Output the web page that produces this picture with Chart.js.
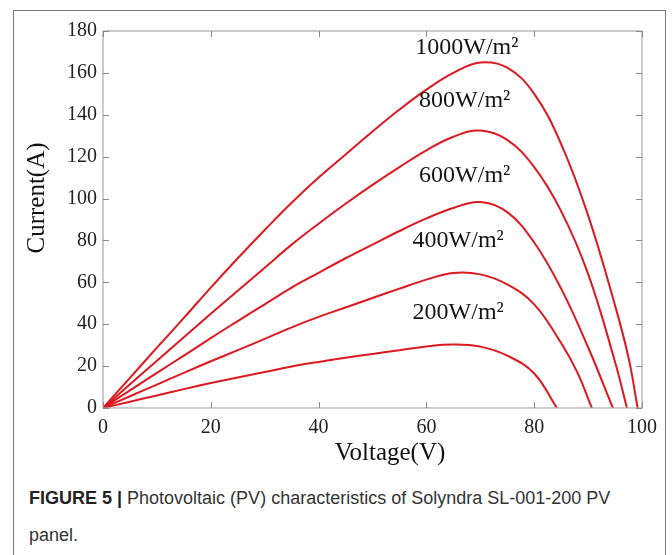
<!DOCTYPE html>
<html>
<head>
<meta charset="utf-8">
<script src="https://cdn.jsdelivr.net/npm/chart.js@4.4.1/dist/chart.umd.min.js"></script>
<style>
  html, body { margin: 0; padding: 0; background: #fff; width: 672px; height: 555px; overflow: hidden; }
  #frame { position: absolute; left: 13px; top: 10px; width: 651px; height: 600px; border: 1.5px solid #7a7a7a; }
  #chart { position: absolute; left: 0; top: 0; }
  #caption { position: absolute; left: 29px; top: 480px; font-family: "Liberation Sans", Arial, sans-serif; font-size: 18px; line-height: 37px; color: #333; }
  #caption b { color: #222; }
</style>
</head>
<body>
<div id="frame"></div>
<canvas id="chart" width="672" height="480"></canvas>
<div id="caption"><b>FIGURE 5 |</b> Photovoltaic (PV) characteristics of Solyndra SL-001-200 PV<br>panel.</div>
<script>
// Curvas I-V (tension en V, corriente en A)
const volt1000 = [0, 5, 10, 15, 20, 25, 30, 35, 40, 45, 50, 55, 60, 65, 70, 75, 80, 85, 90, 95, 97.5, 99.2];
const cur1000  = [0, 14.4, 28.8, 43, 57.5, 71.5, 85, 98, 110, 121, 132, 142.5, 152, 160, 165, 162.5, 150, 126, 92, 49, 24, 0];

const volt800 = [0, 5, 10, 15, 20, 25, 30, 35, 40, 45, 50, 55, 60, 65, 70, 75, 80, 85, 90, 95, 97.2];
const cur800  = [0, 11.3, 22.6, 33.8, 45, 56, 67, 78, 88, 97.5, 106.5, 115, 123, 129.5, 132.5, 128, 115, 94, 64, 22, 0];

const volt600 = [0, 5, 10, 15, 20, 25, 30, 35, 40, 45, 50, 55, 60, 65, 70, 75, 80, 85, 90, 94.6];
const cur600  = [0, 8.4, 16.8, 25, 33.4, 41.5, 49.5, 57.5, 64.5, 71.5, 78, 84.5, 90.5, 95.5, 98.3, 93.5, 79, 57, 29, 0];

const volt400 = [0, 5, 10, 15, 20, 25, 30, 35, 40, 45, 50, 55, 60, 65, 70, 75, 80, 85, 88, 90.7];
const cur400  = [0, 5.6, 11.2, 16.8, 22.3, 27.6, 33, 38.5, 43.5, 48, 52.5, 57, 61.3, 64.5, 63.8, 59, 49.5, 31, 17, 0];

const volt200 = [0, 5, 10, 15, 20, 25, 30, 35, 40, 45, 50, 55, 60, 65, 70, 75, 80, 84.2];
const cur200  = [0, 3, 6, 9, 11.9, 14.6, 17.2, 19.8, 22, 24, 25.8, 27.6, 29.4, 30.3, 29.3, 25, 16.5, 0];

const xTicks = [0, 20, 40, 60, 80, 100];
const yTicks = [0, 20, 40, 60, 80, 100, 120, 140, 160, 180];

// Etiquetas de irradiancia (posicion en coordenadas de datos)
const curveLabels = [
  { text: '1000W/m\u00B2', v: 67.5, a: 172 },
  { text: '800W/m\u00B2',  v: 67.1, a: 146.5 },
  { text: '600W/m\u00B2',  v: 67.1, a: 111 },
  { text: '400W/m\u00B2',  v: 65.9, a: 80 },
  { text: '200W/m\u00B2',  v: 65.9, a: 45.5 }
];

function toPoints(vs, is) {
  return vs.map(function (v, i) { return { x: v, y: is[i] }; });
}

function serie(vs, is) {
  return {
    data: toPoints(vs, is),
    borderColor: '#dc1820',
    borderWidth: 2,
    pointRadius: 0,
    fill: false,
    tension: 0.4
  };
}

const serif = '"Liberation Serif", "Times New Roman", serif';

// Caja del grafico, marcas hacia adentro (estilo MATLAB) y textos
const boxTicks = {
  id: 'boxTicks',
  afterDraw: function (chart) {
    const ctx = chart.ctx;
    const a = chart.chartArea;
    const xs = chart.scales.x, ys = chart.scales.y;
    ctx.save();
    ctx.strokeStyle = '#a8a8a8';
    ctx.lineWidth = 1.2;
    ctx.strokeRect(a.left, a.top, a.right - a.left, a.bottom - a.top);
    ctx.strokeStyle = '#8a8a8a';
    ctx.lineWidth = 1;
    const len = 6;
    ctx.beginPath();
    xTicks.forEach(function (t) {
      const px = Math.round(xs.getPixelForValue(t)) + 0.5;
      ctx.moveTo(px, a.bottom); ctx.lineTo(px, a.bottom - len);
      ctx.moveTo(px, a.top); ctx.lineTo(px, a.top + len);
    });
    yTicks.forEach(function (t) {
      const py = Math.round(ys.getPixelForValue(t)) + 0.5;
      ctx.moveTo(a.left, py); ctx.lineTo(a.left + len, py);
      ctx.moveTo(a.right, py); ctx.lineTo(a.right - len, py);
    });
    ctx.stroke();

    // titulos de ejes
    ctx.fillStyle = '#111';
    ctx.font = '25px ' + serif;
    ctx.textAlign = 'center';
    ctx.textBaseline = 'middle';
    ctx.fillText('Voltage(V)', 390, 453);
    ctx.translate(37, 198);
    ctx.rotate(-Math.PI / 2);
    ctx.fillText('Current(A)', 0, 0);
    ctx.restore();
  },
  afterDatasetsDraw: function (chart) {
    const ctx = chart.ctx;
    const xs = chart.scales.x, ys = chart.scales.y;
    ctx.save();
    ctx.fillStyle = '#151515';
    ctx.font = '24px ' + serif;
    ctx.textAlign = 'center';
    ctx.textBaseline = 'middle';
    curveLabels.forEach(function (l) {
      ctx.fillText(l.text, xs.getPixelForValue(l.v), ys.getPixelForValue(l.a));
    });
    ctx.restore();
  }
};

new Chart(document.getElementById('chart').getContext('2d'), {
  type: 'line',
  data: {
    datasets: [
      serie(volt1000, cur1000),
      serie(volt800, cur800),
      serie(volt600, cur600),
      serie(volt400, cur400),
      serie(volt200, cur200)
    ]
  },
  options: {
    responsive: false,
    animation: false,
    devicePixelRatio: 1,
    layout: { padding: { left: 0, right: 30, top: 31, bottom: 0 } },
    plugins: { legend: { display: false }, tooltip: { enabled: false } },
    scales: {
      x: {
        type: 'linear',
        min: 0, max: 100,
        afterFit: function (s) { s.height = 72; },
        afterBuildTicks: function (s) { s.ticks = xTicks.map(function (v) { return { value: v }; }); },
        grid: { display: false, drawTicks: false },
        border: { display: false },
        ticks: { color: '#222', font: { family: serif, size: 20 }, padding: 8, maxRotation: 0 }
      },
      y: {
        type: 'linear',
        min: 0, max: 180,
        afterFit: function (s) { s.width = 103; },
        afterBuildTicks: function (s) { s.ticks = yTicks.map(function (v) { return { value: v }; }); },
        grid: { display: false, drawTicks: false },
        border: { display: false },
        ticks: { color: '#222', font: { family: serif, size: 20 }, padding: 6 }
      }
    }
  },
  plugins: [boxTicks]
});
</script>
</body>
</html>
